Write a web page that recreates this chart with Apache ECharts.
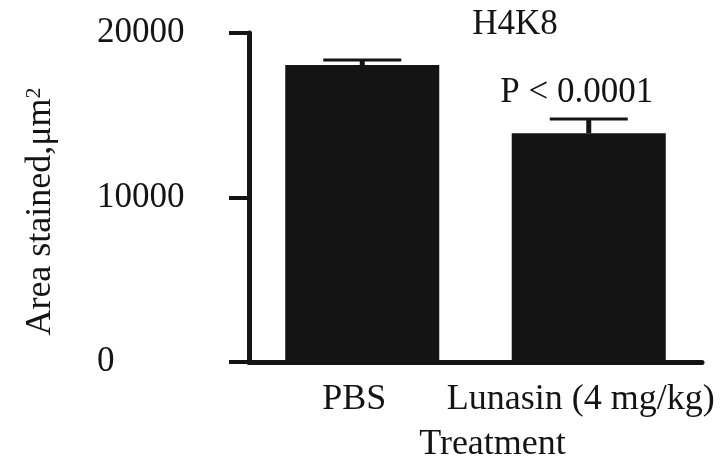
<!DOCTYPE html>
<html>
<head>
<meta charset="utf-8">
<script src="https://cdn.jsdelivr.net/npm/echarts@6/dist/echarts.min.js"></script>
<style>
  html, body { margin: 0; padding: 0; background: #fff; }
  #chart { width: 720px; height: 468px; }
</style>
</head>
<body>
<div id="chart"></div>
<script>
// data
const categories = ['PBS', 'Lunasin (4 mg/kg)']
const means = [18050, 13900]
const errors = [310, 870]
const pLabels = ['', 'P < 0.0001']
const yTicks = [0, 10000, 20000]

const ink = '#141414'
const font = 'Liberation Serif'

const chart = echarts.init(document.getElementById('chart'))

const option = {
  animation: false,
  backgroundColor: '#fff',
  textStyle: { fontFamily: font, color: ink },
  title: {
    text: 'H4K8',
    left: 515,
    top: 7,
    textAlign: 'center',
    padding: 0,
    textStyle: { fontFamily: font, fontSize: 35, fontWeight: 'normal', color: ink }
  },
  grid: { left: 249, right: 18, top: 33, bottom: 106 },
  xAxis: {
    type: 'category',
    data: categories,
    name: 'Treatment',
    nameLocation: 'middle',
    nameGap: 65,
    nameTextStyle: { fontFamily: font, fontSize: 36, color: ink, padding: [0, 0, 0, 34] },
    axisLine: { lineStyle: { color: ink, width: 5 } },
    axisTick: { show: false },
    axisLabel: { fontFamily: font, fontSize: 36, color: ink, margin: 20, padding: [0, 16, 0, 0], interval: 0 }
  },
  yAxis: {
    type: 'value',
    min: yTicks[0],
    max: yTicks[yTicks.length - 1],
    interval: 10000,
    name: 'Area stained,μm{sup|2}',
    nameLocation: 'middle',
    nameGap: 190,
    nameTextStyle: {
      fontFamily: font, fontSize: 36, color: ink, padding: [0, 28, 0, 0],
      rich: { sup: { fontFamily: font, fontSize: 22, color: ink, verticalAlign: 'top', padding: [0, 0, 12, 0] } }
    },
    axisLine: { show: true, lineStyle: { color: ink, width: 5 } },
    axisTick: { show: true, inside: false, length: 20, lineStyle: { color: ink, width: 4 } },
    splitLine: { show: false },
    axisLabel: {
      fontFamily: font, fontSize: 35, color: ink, align: 'left', margin: 152,
      formatter: v => String(v)
    }
  },
  series: [
    {
      type: 'bar',
      data: means,
      barWidth: '68%',
      itemStyle: { color: ink },
      z: 2
    },
    {
      type: 'custom',
      z: 3,
      data: means.map((m, i) => [i, m, m + errors[i]]),
      renderItem: function (params, api) {
        const i = api.value(0)
        const lo = api.coord([i, api.value(1)])
        const hi = api.coord([i, api.value(2)])
        const half = 39
        const children = [
          { type: 'line', shape: { x1: lo[0], y1: lo[1], x2: hi[0], y2: hi[1] }, style: { stroke: ink, lineWidth: 5 } },
          { type: 'line', shape: { x1: hi[0] - half, y1: hi[1], x2: hi[0] + half, y2: hi[1] }, style: { stroke: ink, lineWidth: 3 } }
        ]
        if (pLabels[i]) {
          children.push({
            type: 'text',
            style: {
              text: pLabels[i], x: hi[0] - 12, y: hi[1] - 9,
              align: 'center', verticalAlign: 'bottom',
              font: '35px "' + font + '"', fill: ink
            }
          })
        }
        return { type: 'group', children: children }
      }
    }
  ]
}

chart.setOption(option)
</script>
</body>
</html>
